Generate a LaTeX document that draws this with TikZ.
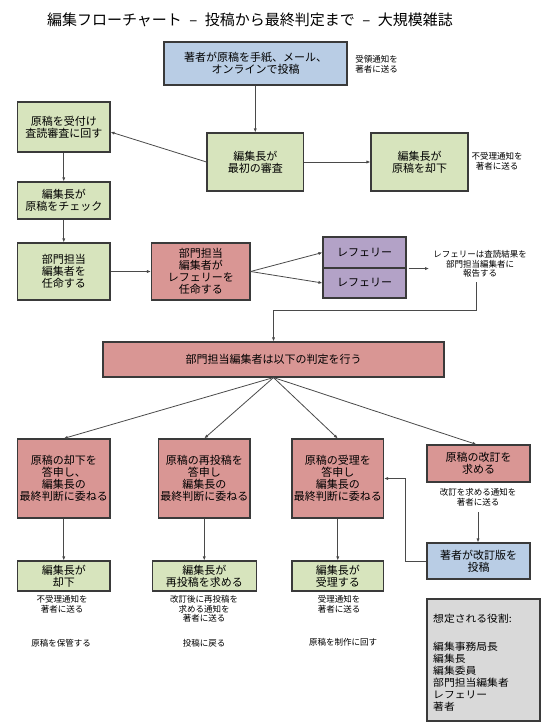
\documentclass[tikz,border=0pt]{standalone}
\usepackage{fontspec}
\setmainfont{Noto Sans CJK JP}
\newfontfamily\grayfam[FakeStretch=1.08]{Noto Sans CJK JP}
\usetikzlibrary{arrows.meta}
\definecolor{cblue}{HTML}{B9CDE5}
\definecolor{cgreen}{HTML}{D7E4BD}
\definecolor{cred}{HTML}{D99694}
\definecolor{cpurple}{HTML}{B3A2C7}
\definecolor{cgray}{HTML}{D9D9D9}
\definecolor{boxline}{HTML}{3A3A3A}
\definecolor{lineclr}{HTML}{4A4A4A}
\newcommand\bxf{\fontsize{11}{12}\selectfont}
\newcommand\ntf{\fontsize{8.5}{9.6}\selectfont}
\newcommand\ttlf{\fontsize{15}{18}\selectfont}
\newcommand\grf{\grayfam\fontsize{10}{12}\selectfont}
\newcommand\tdash{\hspace{0.5em}–\hspace{0.5em}}
\tikzset{
  box/.style={draw=boxline, line width=1.1pt, align=center, inner sep=0pt, font=\bxf},
  bluebox/.style={box, fill=cblue},
  greenbox/.style={box, fill=cgreen},
  redbox/.style={box, fill=cred},
  purplebox/.style={box, fill=cpurple},
  graybox/.style={box, fill=cgray},
  note/.style={align=center, inner sep=0pt, font=\ntf},
  arr/.style={draw=lineclr, line width=0.8pt, -{Latex[length=4pt,width=3.2pt]}},
}
\begin{document}
\begin{tikzpicture}[x=1pt,y=-1pt]
\useasboundingbox[fill=white] (0,0) rectangle (550,727);

\node[font=\ttlf, inner sep=0pt] (title) at (250,20) {編集フローチャート\tdash 投稿から最終判定まで\tdash 大規模雑誌};

% top row
\node[bluebox, minimum width=183pt, minimum height=43pt] (b1) at (255.5,63.5) {著者が原稿を手紙、メール、\\オンラインで投稿};
\node[note] (n1) at (376.5,64) {受領通知を\\著者に送る};
\node[greenbox, minimum width=96.5pt, minimum height=58pt] (b3) at (255.25,162) {編集長が\\最初の審査};
\node[greenbox, minimum width=97pt, minimum height=58pt] (b4) at (419.5,162) {編集長が\\原稿を却下};
\node[note] (n4) at (497,161) {不受理通知を\\著者に送る};

% left column
\node[greenbox, minimum width=92.5pt, minimum height=50pt] (b2) at (63.75,127) {原稿を受付け\\査読審査に回す};
\node[greenbox, minimum width=92.5pt, minimum height=37pt] (b5) at (63.75,200.5) {編集長が\\原稿をチェック};
\node[greenbox, minimum width=92.5pt, minimum height=57pt] (b6) at (63.75,271.5) {部門担当\\編集者を\\任命する};
\node[redbox, minimum width=98.5pt, minimum height=57pt] (b7) at (200.75,271.5) {部門担当\\編集者が\\レフェリーを\\任命する};
\node[purplebox, minimum width=83pt, minimum height=31pt] (r1) at (364.5,252.5) {レフェリー};
\node[purplebox, minimum width=83pt, minimum height=30pt] (r2) at (364.5,283) {レフェリー};
\node[note] (n7) at (480,264) {レフェリーは査読結果を\\部門担当編集者に\\報告する};

% decision
\node[redbox, minimum width=341pt, minimum height=35pt] (big) at (273.5,359.5) {部門担当編集者は以下の判定を行う};
\node[redbox, minimum width=92.5pt, minimum height=79pt] (A) at (63.75,478.5) {原稿の却下を\\答申し、\\編集長の\\最終判断に委ねる};
\node[redbox, minimum width=91.5pt, minimum height=79pt] (B) at (204.25,478.5) {原稿の再投稿を\\答申し\\編集長の\\最終判断に委ねる};
\node[redbox, minimum width=91.5pt, minimum height=79pt] (C) at (337.75,478.5) {原稿の受理を\\答申し\\編集長の\\最終判断に委ねる};
\node[redbox, minimum width=103pt, minimum height=37pt] (D) at (478.5,463.5) {原稿の改訂を\\求める};
\node[note] (nD) at (478,497) {改訂を求める通知を\\著者に送る};
\node[bluebox, minimum width=103pt, minimum height=36pt] (E) at (478.5,561) {著者が改訂版を\\投稿};

% bottom row
\node[greenbox, minimum width=92.5pt, minimum height=30pt] (F) at (63.75,576) {編集長が\\却下};
\node[greenbox, minimum width=104pt, minimum height=30pt] (G) at (204.25,576) {編集長が\\再投稿を求める};
\node[greenbox, minimum width=91.5pt, minimum height=30pt] (H) at (337.75,576) {編集長が\\受理する};
\node[note] (nF) at (62,604.5) {不受理通知を\\著者に送る};
\node[note] (nF2) at (61,643) {原稿を保管する};
\node[note] (nG) at (204,609) {改訂後に再投稿を\\求める通知を\\著者に送る};
\node[note] (nG2) at (204,643) {投稿に戻る};
\node[note] (nH) at (339,604) {受理通知を\\著者に送る};
\node[note] (nH2) at (343,642) {原稿を制作に回す};

% roles box
\node[graybox, minimum width=113pt, minimum height=122pt] (roles) at (483.5,660) {};
\node[anchor=north west, align=left, inner sep=0pt, font=\grf] (rolestxt) at (433,614) {想定される役割:\\[16pt]編集事務局長\\編集長\\編集委員\\部門担当編集者\\レフェリー\\著者};

% connectors
\draw[arr] (b3.north |- b1.south) -- (b3.north);
\draw[arr] (b3.west) -- ([yshift=-5pt]b2.east);
\draw[arr] (b3.east) -- (b4.west);
\draw[arr] (b2.south) -- (b5.north);
\draw[arr] (b5.south) -- (b6.north);
\draw[arr] (b6.east) -- (b7.west);
\draw[arr] (b7.east) -- (r1.west);
\draw[arr] (b7.east) -- (r2.west);
\coordinate (rj) at (r1.south east);
\draw[arr, shorten <=2pt, shorten >=4pt] (rj) -- (n7.west |- rj);
\coordinate (k0) at (476,282);
\coordinate (k1) at (476,310);
\draw[arr] (k0) -- (k1) -| (big.north);
\draw[arr] (big.south) -- (A.north);
\draw[arr] (big.south) -- (B.north);
\draw[arr] (big.south) -- (C.north);
\draw[arr] (big.south) -- ([xshift=-2pt]D.north);
\coordinate (k3) at (478,512);
\draw[arr] (k3) -- (k3 |- E.north);
\coordinate (k2) at (405,561);
\draw[arr] (E.west) -- (k2) |- (C.east);
\draw[arr] (A.south) -- (F.north);
\draw[arr] (B.south) -- (G.north);
\draw[arr] (C.south) -- (H.north);
\end{tikzpicture}
\end{document}
